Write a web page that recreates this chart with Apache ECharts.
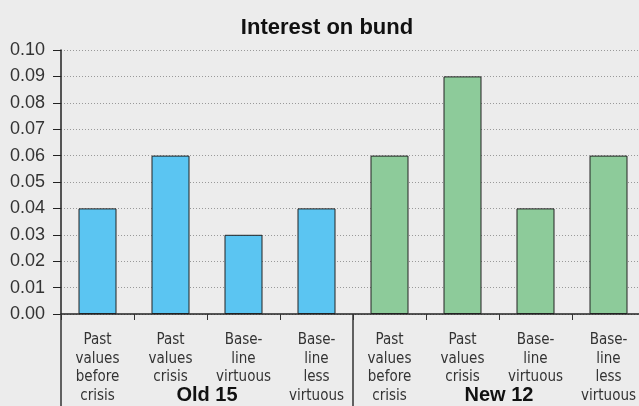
<!DOCTYPE html>
<html>
<head>
<meta charset="utf-8">
<script src="https://cdn.jsdelivr.net/npm/echarts@6/dist/echarts.min.js"></script>
<style>
  html, body { margin: 0; padding: 0; background: #ececec; overflow: hidden; }
  #chart { width: 645px; height: 406px; }
</style>
</head>
<body>
<div id="chart"></div>
<script>
// chart data
var categories = [
  'Past\nvalues\nbefore\ncrisis', 'Past\nvalues\ncrisis', 'Base-\nline\nvirtuous', 'Base-\nline\nless\nvirtuous',
  'Past\nvalues\nbefore\ncrisis', 'Past\nvalues\ncrisis', 'Base-\nline\nvirtuous', 'Base-\nline\nless\nvirtuous'
];
var groups = ['Old 15', 'New 12'];
var groupOf = [0, 0, 0, 0, 1, 1, 1, 1];
var values = [0.04, 0.06, 0.03, 0.04, 0.06, 0.09, 0.04, 0.06];
var groupColors = ['#5bc5f2', '#8dcb9a'];

var chart = echarts.init(document.getElementById('chart'));

var barData = values.map(function (v, i) {
  return { value: v, itemStyle: { color: groupColors[groupOf[i]] } };
});

var option = {
  backgroundColor: '#ececec',
  animation: false,
  title: {
    text: 'Interest on bund',
    left: 322,
    textAlign: 'center',
    top: 12,
    textStyle: {
      color: '#111',
      fontFamily: 'Liberation Sans, Arial, sans-serif',
      fontWeight: 'bold',
      fontSize: 22
    }
  },
  grid: {
    left: 61,
    right: 0,
    top: 50,
    bottom: 92,
    containLabel: false
  },
  xAxis: [
    {
      type: 'category',
      data: categories,
      position: 'bottom',
      axisLine: { lineStyle: { color: '#222', width: 1.5 } },
      axisTick: { show: true, length: 6, lineStyle: { color: '#333' } },
      axisLabel: {
        interval: 0,
        color: '#333',
        fontFamily: 'DejaVu Sans Condensed, Liberation Sans Narrow, sans-serif',
        fontSize: 15,
        lineHeight: 18.5,
        margin: 17,
        verticalAlign: 'top'
      }
    },
    {
      type: 'category',
      data: groups,
      position: 'bottom',
      gridIndex: 0,
      axisLine: { show: false },
      axisTick: { show: true, length: 92, lineStyle: { color: '#333', width: 1.5 } },
      axisLabel: {
        interval: 0,
        color: '#111',
        fontFamily: 'Liberation Sans, Arial, sans-serif',
        fontWeight: 'bold',
        fontSize: 20,
        margin: 81,
        verticalAlign: 'middle'
      }
    }
  ],
  yAxis: {
    type: 'value',
    min: 0,
    max: 0.1,
    interval: 0.01,
    axisLine: { show: true, lineStyle: { color: '#222', width: 1.5 } },
    axisTick: { show: true, length: 8, lineStyle: { color: '#222' } },
    axisLabel: {
      color: '#333',
      fontFamily: 'Liberation Sans, Arial, sans-serif',
      fontSize: 18,
      margin: 16,
      formatter: function (v) { return v.toFixed(2); }
    },
    splitLine: {
      show: true,
      lineStyle: { color: '#999', type: [1, 2], width: 1 }
    }
  },
  series: [
    {
      type: 'bar',
      xAxisIndex: 0,
      barWidth: 38,
      data: barData,
      itemStyle: { borderColor: '#222', borderWidth: 1 }
    }
  ]
};

chart.setOption(option);
</script>
</body>
</html>
